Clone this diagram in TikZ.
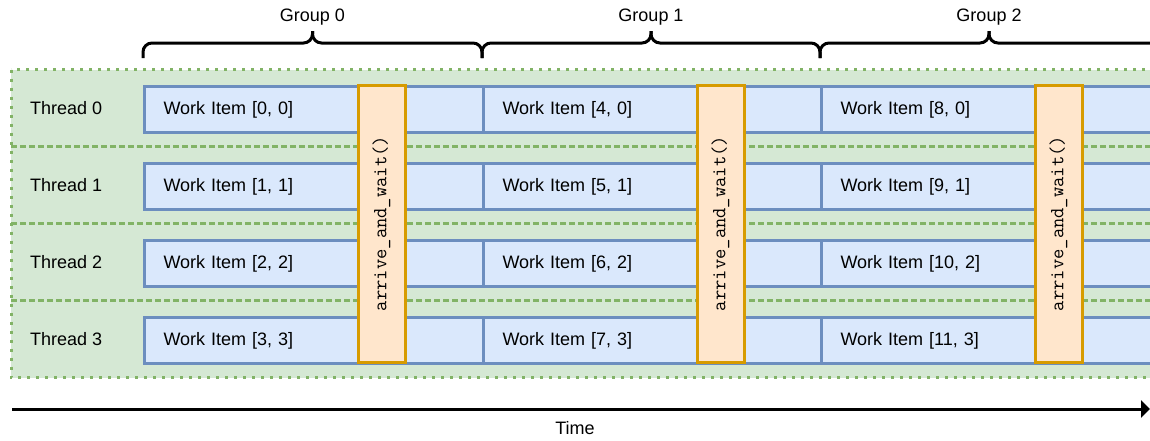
\documentclass[tikz,border=0pt]{standalone}
\usepackage{fontspec}
\setmainfont{Liberation Sans}
\usetikzlibrary{arrows.meta}
\definecolor{bfill}{HTML}{DAE8FC}
\definecolor{bdraw}{HTML}{6C8EBF}
\definecolor{ofill}{HTML}{FFE6CC}
\definecolor{odraw}{HTML}{D79B00}
\definecolor{gfill}{HTML}{D5E8D4}
\definecolor{gdraw}{HTML}{82B366}
\tikzset{
  txt/.style={font=\fontsize{18}{22}\selectfont, inner sep=0pt},
  wi/.style={draw=bdraw, fill=bfill, line width=3pt, anchor=north west,
    minimum height=46pt, text width=301pt, inner xsep=19pt, inner ysep=0pt,
    align=left, font=\fontsize{18}{22}\selectfont},
  barrier/.style={draw=odraw, fill=ofill, line width=3pt, rotate=90,
    minimum width=277pt, minimum height=47pt, inner sep=0pt,
    font=\ttfamily\fontsize{20}{24}\selectfont},
  bracelines/.style={line width=3pt, rounded corners=9pt},
  rowsep/.style={draw=gdraw, line width=2.5pt, dash pattern=on 6pt off 3pt},
  outer/.style={draw=gdraw, fill=gfill, line width=3pt, dash pattern=on 3pt off 6pt},
}
\begin{document}
\begin{tikzpicture}[x=1pt,y=-1pt]
\useasboundingbox (0,0) rectangle (1150,440);
\clip (0,0) rectangle (1150,440);

% green background with rows
\path[outer] (11,69.5) rectangle (1170,377.5);
\foreach \yy in {146.5,223.5,300.5}
  \draw[rowsep] (11,\yy) -- (1170,\yy);

% thread labels
\foreach \i/\yy in {0/108,1/185,2/262,3/339}
  \node[txt, anchor=west] (th\i) at (30,\yy) {Thread \i};

% work items
\foreach \r/\yy in {0/85,1/162,2/239,3/316}{
  \pgfmathtruncatemacro{\aa}{\r}
  \pgfmathtruncatemacro{\bb}{\r+4}
  \pgfmathtruncatemacro{\cc}{\r+8}
  \node[wi] (w0\r) at (143,\yy) {Work Item [\aa, \r]};
  \node[wi] (w1\r) at (482,\yy) {Work Item [\bb, \r]};
  \node[wi] (w2\r) at (820,\yy) {Work Item [\cc, \r]};
}

% barriers
\node[barrier] (b0) at (381.5,223.5) {arrive\_and\_wait()};
\node[barrier] (b1) at (720.5,223.5) {arrive\_and\_wait()};
\node[barrier] (b2) at (1058.5,223.5) {arrive\_and\_wait()};

% braces
\foreach \xa/\xb in {143/482,482/820,820/1158}{
  \pgfmathsetmacro{\xm}{(\xa+\xb)/2}
  \draw[bracelines] (\xa,58) |- (\xm,43) -- (\xm,31);
  \draw[bracelines] (\xb,58) |- (\xm,43) -- (\xm,31);
}
\node[txt] (g0) at (312.5,17) {Group 0};
\node[txt] (g1) at (651,17) {Group 1};
\node[txt] (g2) at (989,17) {Group 2};

% time arrow
\coordinate (t0) at (12,409);
\coordinate (t1) at (1150,409);
\draw[line width=3pt, -{Triangle[length=9pt,width=17pt]}] (t0) -- (t1);
\node[txt] (time) at (575,428) {Time};
\end{tikzpicture}
\end{document}
